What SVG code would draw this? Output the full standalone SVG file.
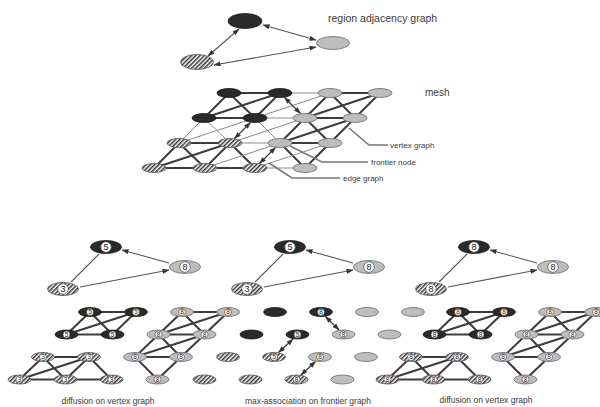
<svg xmlns="http://www.w3.org/2000/svg" xmlns:xlink="http://www.w3.org/1999/xlink" width="600" height="407" viewBox="0 0 600 407">
<style>
text{font-family:"Liberation Sans",Arial,sans-serif;fill:#3a3a3a}
.dk{fill:#2a2a2a;stroke:#1a1a1a;stroke-width:.8}
.lt{fill:#bdbdbd;stroke:#6a6a6a;stroke-width:.8}
.ht{fill:url(#hatch);stroke:#555;stroke-width:.8}
.tk{stroke:#3c3c3c;stroke-width:2;fill:none}
.tn{stroke:#8c8c8c;stroke-width:1;fill:none}
.rg{stroke:#555;stroke-width:1.1;fill:none;marker-start:url(#ah);marker-end:url(#ah)}
.ar{stroke:#333;stroke-width:1.1;fill:none;marker-start:url(#ah);marker-end:url(#ah)}
.ld{stroke:#777;stroke-width:1.5;fill:none}
.c{fill:#fff;stroke:#333;stroke-width:.6}
.n{font-size:6.5px;text-anchor:middle;fill:#222}
.N{font-size:9px;text-anchor:middle;fill:#222}
.cap{font-size:8.5px;text-anchor:middle}
.lab{font-size:8px}
</style>
<defs>
<pattern id="hatch" patternUnits="userSpaceOnUse" width="3" height="3" patternTransform="rotate(45)">
<rect width="3" height="3" fill="#fff"/><rect width="1.5" height="3" fill="#333"/>
</pattern>
<marker id="ah" viewBox="0 0 7 5" refX="6.5" refY="2.5" markerWidth="7" markerHeight="5" markerUnits="userSpaceOnUse" orient="auto-start-reverse">
<path d="M0,0 L7,2.5 L0,5 z" fill="#333"/>
</marker>
</defs>
<rect width="600" height="407" fill="#fff"/>

<!-- connectors -->
<g id="connectors">
<!-- top region adjacency graph -->
<path class="rg" d="M263,25 L316,40"/>
<path class="rg" d="M239,29 L208,56"/>
<path class="rg" d="M214,65 L316,47"/>
<!-- mesh: same-region (vertex graph) -->
<path class="tk" d="M229,93 L280,93 M330,93 L380,93 M204,118 L255,118 M305,118 L355,118 M179,143 L230,143 M280,143 L330,143 M154,168 L205,168 M205,168 L255,168"/>
<path class="tk" d="M229,93 L204,118 M280,93 L255,118 M330,93 L305,118 M380,93 L355,118 M305,118 L280,143 M355,118 L330,143 M179,143 L154,168 M230,143 L205,168 M330,143 L305,168"/>
<path class="tk" d="M229,93 L255,118 M330,93 L355,118 M305,118 L330,143 M179,143 L205,168 M230,143 L255,168 M280,143 L305,168"/>
<path class="tk" d="M280,93 L204,118 M380,93 L305,118 M355,118 L280,143 M230,143 L154,168"/>
<!-- mesh: cross-region -->
<path class="tn" d="M280,93 L330,93 M255,118 L305,118 M230,143 L280,143 M255,168 L305,168 M204,118 L179,143 M204,118 L230,143 M255,118 L280,143 M330,93 L255,118 M255,118 L179,143 M305,118 L230,143 M280,143 L205,168 M330,143 L255,168"/>
<!-- mesh: frontier arrows -->
<path class="ar" d="M284.5,97.5 L300.5,113.5"/>
<path class="ar" d="M250.5,122.5 L234.5,138.5"/>
<path class="ar" d="M275.5,147.5 L259.5,163.5"/>
<!-- leaders -->
<path class="ld" d="M349,128 L369,145 L388,145"/>
<path class="ld" d="M290,146 L322,162 L368,162"/>
<path class="ld" d="M269,163 L292,178 L340,178"/>
<!-- panel region graphs -->
<path class="rg" d="M122,250 L169,263 M99,254 L71,282 M80,287 L169,270"/>
<path class="rg" d="M306,250 L353,263 M283,254 L255,282 M264,287 L353,270"/>
<path class="rg" d="M490,250 L537,263 M467,254 L439,282 M448,287 L537,270"/>
<!-- panel 1 vertex graph -->
<g id="p1-edges">
<path class="tk" stroke-width="1.8" d="M90,312 L136,312 M182,312 L228,312 M66.5,334.5 L112.5,334.5 M158.5,334.5 L204.5,334.5 M43,357 L89,357 M135,357 L181,357 M19.5,379.5 L65.5,379.5 M65.5,379.5 L111.5,379.5"/>
<path class="tk" d="M90,312 L66.5,334.5 M136,312 L112.5,334.5 M182,312 L158.5,334.5 M228,312 L204.5,334.5 M158.5,334.5 L135,357 M204.5,334.5 L181,357 M43,357 L19.5,379.5 M89,357 L65.5,379.5 M181,357 L157.5,379.5"/>
<path class="tk" d="M90,312 L112.5,334.5 M182,312 L204.5,334.5 M158.5,334.5 L181,357 M43,357 L65.5,379.5 M89,357 L111.5,379.5 M135,357 L157.5,379.5"/>
<path class="tk" d="M136,312 L66.5,334.5 M228,312 L158.5,334.5 M204.5,334.5 L135,357 M89,357 L19.5,379.5"/>
</g>
<!-- panel 3 vertex graph -->
<g id="p3-edges" transform="translate(368,0)">
<path class="tk" d="M90,312 L136,312 M182,312 L228,312 M66.5,334.5 L112.5,334.5 M158.5,334.5 L204.5,334.5 M43,357 L89,357 M135,357 L181,357 M19.5,379.5 L65.5,379.5 M65.5,379.5 L111.5,379.5"/>
<path class="tk" d="M90,312 L66.5,334.5 M136,312 L112.5,334.5 M182,312 L158.5,334.5 M228,312 L204.5,334.5 M158.5,334.5 L135,357 M204.5,334.5 L181,357 M43,357 L19.5,379.5 M89,357 L65.5,379.5 M181,357 L157.5,379.5"/>
<path class="tk" d="M90,312 L112.5,334.5 M182,312 L204.5,334.5 M158.5,334.5 L181,357 M43,357 L65.5,379.5 M89,357 L111.5,379.5 M135,357 L157.5,379.5"/>
<path class="tk" d="M136,312 L66.5,334.5 M228,312 L158.5,334.5 M204.5,334.5 L135,357 M89,357 L19.5,379.5"/>
</g>
<!-- panel 2 frontier arrows -->
<path class="ar" d="M325.5,316.5 L339,330"/>
<path class="ar" d="M293,339 L278.5,352.5"/>
<path class="ar" d="M315.5,361.5 L301,375"/>
</g>

<!-- top region adjacency graph nodes -->
<g id="rag-dark"><ellipse class="dk" cx="245" cy="21" rx="17" ry="7.5"/></g>
<g id="rag-light"><ellipse class="lt" cx="333" cy="43" rx="16.5" ry="6.5"/></g>
<g id="rag-hatched"><ellipse class="ht" cx="197" cy="62" rx="16.5" ry="7.5"/></g>

<!-- mesh nodes -->
<g id="mesh">
<g id="m00"><ellipse class="dk" cx="229" cy="93" rx="12" ry="4.5"/></g>
<g id="m01"><ellipse class="dk" cx="280" cy="93" rx="12" ry="4.5"/></g>
<g id="m02"><ellipse class="lt" cx="330" cy="93" rx="12" ry="4.5"/></g>
<g id="m03"><ellipse class="lt" cx="380" cy="93" rx="12" ry="4.5"/></g>
<g id="m10"><ellipse class="dk" cx="204" cy="118" rx="12" ry="4.5"/></g>
<g id="m11"><ellipse class="dk" cx="255" cy="118" rx="12" ry="4.5"/></g>
<g id="m12"><ellipse class="lt" cx="305" cy="118" rx="12" ry="4.5"/></g>
<g id="m13"><ellipse class="lt" cx="355" cy="118" rx="12" ry="4.5"/></g>
<g id="m20"><ellipse class="ht" cx="179" cy="143" rx="12" ry="4.5"/></g>
<g id="m21"><ellipse class="ht" cx="230" cy="143" rx="12" ry="4.5"/></g>
<g id="m22"><ellipse class="lt" cx="280" cy="143" rx="12" ry="4.5"/></g>
<g id="m23"><ellipse class="lt" cx="330" cy="143" rx="12" ry="4.5"/></g>
<g id="m30"><ellipse class="ht" cx="154" cy="168" rx="12" ry="4.5"/></g>
<g id="m31"><ellipse class="ht" cx="205" cy="168" rx="12" ry="4.5"/></g>
<g id="m32"><ellipse class="ht" cx="255" cy="168" rx="12" ry="4.5"/></g>
<g id="m33"><ellipse class="lt" cx="305" cy="168" rx="12" ry="4.5"/></g>
</g>

<!-- panel region graph nodes -->
<g id="p1-rag">
<g id="p1-d"><ellipse class="dk" cx="106" cy="247" rx="15.5" ry="6.5"/><circle class="c" cx="106" cy="247" r="5.3"/><text class="N" x="106" y="250.2">5</text></g>
<g id="p1-l"><ellipse class="lt" cx="185" cy="267" rx="15.5" ry="6.5"/><circle class="c" cx="185" cy="267" r="5.3"/><text class="N" x="185" y="270.2">8</text></g>
<g id="p1-h"><ellipse class="ht" cx="63" cy="289" rx="15.5" ry="6.5"/><circle class="c" cx="63" cy="289" r="5.3"/><text class="N" x="63" y="292.2">3</text></g>
</g>
<g id="p2-rag">
<g id="p2-d"><ellipse class="dk" cx="290" cy="247" rx="15.5" ry="6.5"/><circle class="c" cx="290" cy="247" r="5.3"/><text class="N" x="290" y="250.2">5</text></g>
<g id="p2-l"><ellipse class="lt" cx="369" cy="267" rx="15.5" ry="6.5"/><circle class="c" cx="369" cy="267" r="5.3"/><text class="N" x="369" y="270.2">8</text></g>
<g id="p2-h"><ellipse class="ht" cx="247" cy="289" rx="15.5" ry="6.5"/><circle class="c" cx="247" cy="289" r="5.3"/><text class="N" x="247" y="292.2">3</text></g>
</g>
<g id="p3-rag">
<g id="p3-d"><ellipse class="dk" cx="474" cy="247" rx="15.5" ry="6.5"/><circle class="c" cx="474" cy="247" r="5.3"/><text class="N" x="474" y="250.2">8</text></g>
<g id="p3-l"><ellipse class="lt" cx="553" cy="267" rx="15.5" ry="6.5"/><circle class="c" cx="553" cy="267" r="5.3"/><text class="N" x="553" y="270.2">8</text></g>
<g id="p3-h"><ellipse class="ht" cx="431" cy="289" rx="15.5" ry="6.5"/><circle class="c" cx="431" cy="289" r="5.3"/><text class="N" x="431" y="292.2">8</text></g>
</g>

<!-- panel 1 lattice -->
<g id="p1-nodes">
<g id="p1-00"><ellipse class="dk" cx="90" cy="312" rx="11.5" ry="4.5"/><circle class="c" cx="90" cy="312" r="3.5"/><text class="n" x="90" y="314.3">5</text></g>
<g id="p1-01"><ellipse class="dk" cx="136" cy="312" rx="11.5" ry="4.5"/><circle class="c" cx="136" cy="312" r="3.5"/><text class="n" x="136" y="314.3">5</text></g>
<g id="p1-02"><ellipse class="lt" cx="182" cy="312" rx="11.5" ry="4.5"/><circle class="c" cx="182" cy="312" r="3.5"/><text class="n" x="182" y="314.3">8</text></g>
<g id="p1-03"><ellipse class="lt" cx="228" cy="312" rx="11.5" ry="4.5"/><circle class="c" cx="228" cy="312" r="3.5"/><text class="n" x="228" y="314.3">8</text></g>
<g id="p1-10"><ellipse class="dk" cx="66.5" cy="334.5" rx="11.5" ry="4.5"/><circle class="c" cx="66.5" cy="334.5" r="3.5"/><text class="n" x="66.5" y="336.8">5</text></g>
<g id="p1-11"><ellipse class="dk" cx="112.5" cy="334.5" rx="11.5" ry="4.5"/><circle class="c" cx="112.5" cy="334.5" r="3.5"/><text class="n" x="112.5" y="336.8">5</text></g>
<g id="p1-12"><ellipse class="lt" cx="158.5" cy="334.5" rx="11.5" ry="4.5"/><circle class="c" cx="158.5" cy="334.5" r="3.5"/><text class="n" x="158.5" y="336.8">8</text></g>
<g id="p1-13"><ellipse class="lt" cx="204.5" cy="334.5" rx="11.5" ry="4.5"/><circle class="c" cx="204.5" cy="334.5" r="3.5"/><text class="n" x="204.5" y="336.8">8</text></g>
<g id="p1-20"><ellipse class="ht" cx="43" cy="357" rx="11.5" ry="4.5"/><circle class="c" cx="43" cy="357" r="3.5"/><text class="n" x="43" y="359.3">3</text></g>
<g id="p1-21"><ellipse class="ht" cx="89" cy="357" rx="11.5" ry="4.5"/><circle class="c" cx="89" cy="357" r="3.5"/><text class="n" x="89" y="359.3">3</text></g>
<g id="p1-22"><ellipse class="lt" cx="135" cy="357" rx="11.5" ry="4.5"/><circle class="c" cx="135" cy="357" r="3.5"/><text class="n" x="135" y="359.3">8</text></g>
<g id="p1-23"><ellipse class="lt" cx="181" cy="357" rx="11.5" ry="4.5"/><circle class="c" cx="181" cy="357" r="3.5"/><text class="n" x="181" y="359.3">8</text></g>
<g id="p1-30"><ellipse class="ht" cx="19.5" cy="379.5" rx="11.5" ry="4.5"/><circle class="c" cx="19.5" cy="379.5" r="3.5"/><text class="n" x="19.5" y="381.8">3</text></g>
<g id="p1-31"><ellipse class="ht" cx="65.5" cy="379.5" rx="11.5" ry="4.5"/><circle class="c" cx="65.5" cy="379.5" r="3.5"/><text class="n" x="65.5" y="381.8">3</text></g>
<g id="p1-32"><ellipse class="ht" cx="111.5" cy="379.5" rx="11.5" ry="4.5"/><circle class="c" cx="111.5" cy="379.5" r="3.5"/><text class="n" x="111.5" y="381.8">3</text></g>
<g id="p1-33"><ellipse class="lt" cx="157.5" cy="379.5" rx="11.5" ry="4.5"/><circle class="c" cx="157.5" cy="379.5" r="3.5"/><text class="n" x="157.5" y="381.8">8</text></g>
</g>

<!-- panel 2 lattice -->
<g id="p2-nodes">
<g id="p2-00"><ellipse class="dk" cx="275" cy="312" rx="11.5" ry="4.5"/></g>
<g id="p2-01"><ellipse class="dk" cx="321" cy="312" rx="11.5" ry="4.5"/><circle class="c" cx="321" cy="312" r="3.5"/><text class="n" x="321" y="314.3">8</text></g>
<g id="p2-02"><ellipse class="lt" cx="367" cy="312" rx="11.5" ry="4.5"/></g>
<g id="p2-03"><ellipse class="lt" cx="413" cy="312" rx="11.5" ry="4.5"/></g>
<g id="p2-10"><ellipse class="dk" cx="251.5" cy="334.5" rx="11.5" ry="4.5"/></g>
<g id="p2-11"><ellipse class="dk" cx="297.5" cy="334.5" rx="11.5" ry="4.5"/><circle class="c" cx="297.5" cy="334.5" r="3.5"/><text class="n" x="297.5" y="336.8">5</text></g>
<g id="p2-12"><ellipse class="lt" cx="343.5" cy="334.5" rx="11.5" ry="4.5"/><circle class="c" cx="343.5" cy="334.5" r="3.5"/><text class="n" x="343.5" y="336.8">8</text></g>
<g id="p2-13"><ellipse class="lt" cx="389.5" cy="334.5" rx="11.5" ry="4.5"/></g>
<g id="p2-20"><ellipse class="ht" cx="228" cy="357" rx="11.5" ry="4.5"/></g>
<g id="p2-21"><ellipse class="ht" cx="274" cy="357" rx="11.5" ry="4.5"/><circle class="c" cx="274" cy="357" r="3.5"/><text class="n" x="274" y="359.3">5</text></g>
<g id="p2-22"><ellipse class="lt" cx="320" cy="357" rx="11.5" ry="4.5"/><circle class="c" cx="320" cy="357" r="3.5"/><text class="n" x="320" y="359.3">8</text></g>
<g id="p2-23"><ellipse class="lt" cx="366" cy="357" rx="11.5" ry="4.5"/></g>
<g id="p2-30"><ellipse class="ht" cx="204.5" cy="379.5" rx="11.5" ry="4.5"/></g>
<g id="p2-31"><ellipse class="ht" cx="250.5" cy="379.5" rx="11.5" ry="4.5"/></g>
<g id="p2-32"><ellipse class="ht" cx="296.5" cy="379.5" rx="11.5" ry="4.5"/><circle class="c" cx="296.5" cy="379.5" r="3.5"/><text class="n" x="296.5" y="381.8">8</text></g>
<g id="p2-33"><ellipse class="lt" cx="342.5" cy="379.5" rx="11.5" ry="4.5"/></g>
</g>

<!-- panel 3 lattice -->
<g id="p3-nodes">
<g id="p3-00"><ellipse class="dk" cx="458" cy="312" rx="11.5" ry="4.5"/><circle class="c" cx="458" cy="312" r="3.5"/><text class="n" x="458" y="314.3">8</text></g>
<g id="p3-01"><ellipse class="dk" cx="504" cy="312" rx="11.5" ry="4.5"/><circle class="c" cx="504" cy="312" r="3.5"/><text class="n" x="504" y="314.3">8</text></g>
<g id="p3-02"><ellipse class="lt" cx="550" cy="312" rx="11.5" ry="4.5"/><circle class="c" cx="550" cy="312" r="3.5"/><text class="n" x="550" y="314.3">8</text></g>
<g id="p3-03"><ellipse class="lt" cx="596" cy="312" rx="11.5" ry="4.5"/><circle class="c" cx="596" cy="312" r="3.5"/><text class="n" x="596" y="314.3">8</text></g>
<g id="p3-10"><ellipse class="dk" cx="434.5" cy="334.5" rx="11.5" ry="4.5"/><circle class="c" cx="434.5" cy="334.5" r="3.5"/><text class="n" x="434.5" y="336.8">8</text></g>
<g id="p3-11"><ellipse class="dk" cx="480.5" cy="334.5" rx="11.5" ry="4.5"/><circle class="c" cx="480.5" cy="334.5" r="3.5"/><text class="n" x="480.5" y="336.8">8</text></g>
<g id="p3-12"><ellipse class="lt" cx="526.5" cy="334.5" rx="11.5" ry="4.5"/><circle class="c" cx="526.5" cy="334.5" r="3.5"/><text class="n" x="526.5" y="336.8">8</text></g>
<g id="p3-13"><ellipse class="lt" cx="572.5" cy="334.5" rx="11.5" ry="4.5"/><circle class="c" cx="572.5" cy="334.5" r="3.5"/><text class="n" x="572.5" y="336.8">8</text></g>
<g id="p3-20"><ellipse class="ht" cx="411" cy="357" rx="11.5" ry="4.5"/><circle class="c" cx="411" cy="357" r="3.5"/><text class="n" x="411" y="359.3">8</text></g>
<g id="p3-21"><ellipse class="ht" cx="457" cy="357" rx="11.5" ry="4.5"/><circle class="c" cx="457" cy="357" r="3.5"/><text class="n" x="457" y="359.3">8</text></g>
<g id="p3-22"><ellipse class="lt" cx="503" cy="357" rx="11.5" ry="4.5"/><circle class="c" cx="503" cy="357" r="3.5"/><text class="n" x="503" y="359.3">8</text></g>
<g id="p3-23"><ellipse class="lt" cx="549" cy="357" rx="11.5" ry="4.5"/><circle class="c" cx="549" cy="357" r="3.5"/><text class="n" x="549" y="359.3">8</text></g>
<g id="p3-30"><ellipse class="ht" cx="387.5" cy="379.5" rx="11.5" ry="4.5"/><circle class="c" cx="387.5" cy="379.5" r="3.5"/><text class="n" x="387.5" y="381.8">8</text></g>
<g id="p3-31"><ellipse class="ht" cx="433.5" cy="379.5" rx="11.5" ry="4.5"/><circle class="c" cx="433.5" cy="379.5" r="3.5"/><text class="n" x="433.5" y="381.8">8</text></g>
<g id="p3-32"><ellipse class="ht" cx="479.5" cy="379.5" rx="11.5" ry="4.5"/><circle class="c" cx="479.5" cy="379.5" r="3.5"/><text class="n" x="479.5" y="381.8">8</text></g>
<g id="p3-33"><ellipse class="lt" cx="525.5" cy="379.5" rx="11.5" ry="4.5"/><circle class="c" cx="525.5" cy="379.5" r="3.5"/><text class="n" x="525.5" y="381.8">8</text></g>
</g>

<!-- labels -->
<g id="labels">
<text x="328" y="22" font-size="10.5">region adjacency graph</text>
<text x="425" y="96" font-size="10">mesh</text>
<text class="lab" x="390" y="148">vertex graph</text>
<text class="lab" x="371" y="165">frontier node</text>
<text class="lab" x="343" y="181">edge graph</text>
<text class="cap" x="108" y="404">diffusion on vertex graph</text>
<text class="cap" x="308" y="404">max-association on frontier graph</text>
<text class="cap" x="486" y="403">diffusion on vertex graph</text>
</g>
</svg>
